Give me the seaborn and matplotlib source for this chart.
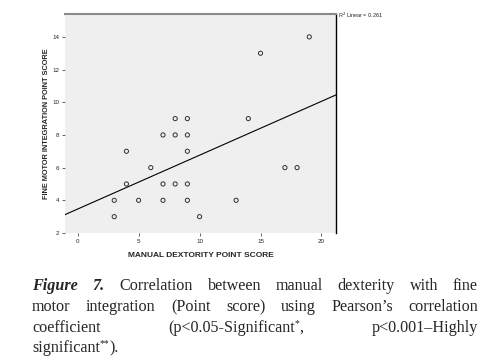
import numpy as np
import pandas as pd
import seaborn as sns
import matplotlib.pyplot as plt

# data
dexterity = [3, 3, 4, 4, 5, 6, 7, 7, 7, 8, 8, 8, 9, 9, 9, 9, 9, 10, 13, 14, 15, 17, 18, 19]
fine_motor = [4, 3, 7, 5, 4, 6, 8, 5, 4, 9, 8, 5, 9, 8, 7, 5, 4, 3, 4, 9, 13, 6, 6, 14]
x_ticks = [0, 5, 10, 15, 20]
y_ticks = [2, 4, 6, 8, 10, 12, 14]

df = pd.DataFrame({"dex": dexterity, "fmi": fine_motor})

sns.set_style("white")
plt.rcParams["font.family"] = ["Liberation Sans", "DejaVu Sans"]

fig = plt.figure(figsize=(4.95, 3.59), dpi=100)
ax = fig.add_axes([0.131, 0.351, 0.548, 0.610])
ax.set_facecolor("#efefef")
ax.set_xlim(-1.05, 21.2)
ax.set_ylim(2.0, 15.4)

sns.regplot(
    data=df, x="dex", y="fmi", ax=ax, ci=None, truncate=False,
    scatter_kws=dict(s=9, facecolors="none", edgecolors="black", linewidths=0.7),
    line_kws=dict(color="black", lw=0.8),
)

ax.set_xticks(x_ticks)
ax.set_yticks(y_ticks)
ax.tick_params(axis="both", labelsize=4.5, length=2, width=0.5, direction="out",
               bottom=True, left=True, pad=2)
ax.set_xlabel("MANUAL DEXTORITY POINT SCORE", fontsize=6, fontweight="bold", labelpad=6)
ax.set_ylabel("FINE MOTOR INTEGRATION POINT SCORE", fontsize=5.3, fontweight="bold", labelpad=2)

for side in ["left", "bottom"]:
    ax.spines[side].set_visible(False)
ax.spines["top"].set_color("#8a8a8a")
ax.spines["top"].set_linewidth(1.5)
ax.spines["right"].set_color("black")
ax.spines["right"].set_linewidth(1.0)

fig.text(0.682, 0.957, "R$^2$ Linear = 0.261", fontsize=4, ha="left", va="center")

# caption, justified by hand
serif = ["Liberation Serif", "DejaVu Serif"]
fs = 11.6
lines = [
    [[("Figure", "bi")], [("7.", "bi")], [("Correlation", "n")], [("between", "n")],
     [("manual", "n")], [("dexterity", "n")], [("with", "n")], [("fine", "n")]],
    [[("motor", "n")], [("integration", "n")], [("(Point", "n")], [("score)", "n")],
     [("using", "n")], [("Pearson\u2019s", "n")], [("correlation", "n")]],
    [[("coefficient", "n")], [("(p<0.05-Significant", "n"), ("*", "sup"), (",", "n")],
     [("p<0.001\u2013Highly", "n")]],
    [[("significant", "n"), ("**", "sup"), (").", "n")]],
]
left_px, right_px = 32, 478
baselines = [290, 311, 332, 352]
W, H = fig.bbox.width, fig.bbox.height
fig.canvas.draw()
rend = fig.canvas.get_renderer()


def make_word(word):
    objs = []
    for txt, style in word:
        kw = dict(family=serif, fontsize=fs, va="baseline", ha="left")
        if style == "bi":
            kw.update(fontweight="bold", fontstyle="italic")
        if style == "sup":
            kw.update(fontsize=fs * 0.6)
        t = fig.text(0, 0, txt, **kw)
        objs.append((t, style))
    return objs


for i, line in enumerate(lines):
    words = [make_word(w) for w in line]
    widths = []
    for w in words:
        widths.append(sum(t.get_window_extent(rend).width for t, _ in w))
    if i == len(lines) - 1 or len(words) == 1:
        gap = 4
    else:
        gap = (right_px - left_px - sum(widths)) / (len(words) - 1)
    x = left_px
    for w, wd in zip(words, widths):
        cx = x
        for t, style in w:
            y = baselines[i] - (6 if style == "sup" else 0)
            t.set_position((cx / W, 1 - y / H))
            cx += t.get_window_extent(rend).width
        x += wd + gap

fig.savefig("out.png", dpi=100)
